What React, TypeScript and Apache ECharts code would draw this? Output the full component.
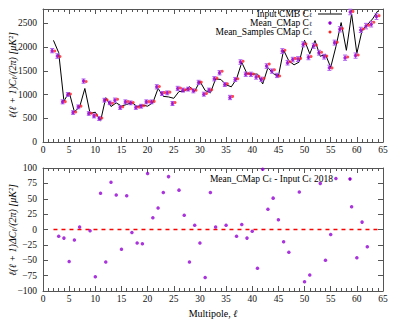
import React, { useEffect, useRef } from "react";
import * as echarts from "echarts";

const ells = [2, 3, 4, 5, 6, 7, 8, 9, 10, 11, 12, 13, 14, 15, 16, 17, 18, 19, 20, 21, 22, 23, 24, 25, 26, 27, 28, 29, 30, 31, 32, 33, 34, 35, 36, 37, 38, 39, 40, 41, 42, 43, 44, 45, 46, 47, 48, 49, 50, 51, 52, 53, 54, 55, 56, 57, 58, 59, 60, 61, 62, 63, 64];

const inputCl = [2140, 1880, 860, 1052, 637, 736, 1127, 602, 627, 440,
  933, 747, 824, 757, 790, 829, 747, 776, 754, 826,
  1127, 961, 949, 920, 1063, 1069, 1166, 1070, 1276, 1085,
  1032, 1327, 1317, 1204, 1162, 1328, 1675, 1440, 1428, 1430,
  1222, 1566, 1442, 1385, 1935, 1706, 1625, 1685, 2141, 1856,
  2135, 1805, 1846, 1571, 2009, 2514, 1930, 2700, 1865, 2350,
  2468, 2590, 2760];

const meanCMap = [1923, 1810, 845, 1000, 620, 740, 1282, 600, 550, 493,
  880, 824, 880, 725, 845, 824, 725, 753, 845, 845,
  1162, 1021, 1035, 810, 1127, 1092, 1113, 1077, 1254, 1007,
  1092, 1331, 1458, 1211, 937, 1317, 1683, 1426, 1425, 1367,
  1320, 1599, 1493, 1401, 1915, 1669, 1735, 1746, 2056, 1782,
  2025, 1880, 1796, 1563, 2092, 2373, 1775, 2737, 1819, 2360,
  2440, 2480, 2640];

const meanSamples = [1915, 1800, 850, 1010, 630, 755, 1275, 605, 565, 505,
  890, 815, 900, 740, 850, 830, 735, 765, 850, 855,
  1170, 1040, 1050, 830, 1135, 1100, 1120, 1090, 1260, 1020,
  1100, 1345, 1490, 1225, 960, 1330, 1700, 1440, 1430, 1385,
  1340, 1640, 1520, 1390, 1930, 1690, 1760, 1760, 2065, 1800,
  2040, 1890, 1810, 1560, 2100, 2390, 1790, 2750, 1830, 2380,
  2460, 2520, 2660];

const meanErr = [45, 48, 42, 40, 38, 40, 45, 38, 42, 40,
  40, 38, 45, 40, 42, 40, 38, 40, 42, 40,
  45, 42, 40, 42, 45, 42, 40, 42, 45, 42,
  42, 45, 45, 42, 45, 42, 48, 45, 45, 45,
  45, 48, 45, 45, 50, 48, 48, 50, 52, 50,
  52, 50, 50, 55, 52, 55, 55, 58, 55, 55,
  58, 58, 60];

const diffCl = [-217, -11, -14, -52, -17, 4, 155, -2, -77, 59,
  -53, 77, 56, -32, 55, -5, -22, -23, 91, 19,
  35, 60, 86, -110, 64, 23, -53, 7, -22, -78,
  60, 4, 141, 7, -225, -11, 8, -14, -3, -63,
  98, 33, 51, 16, -20, -37, 110, 61, -85, -74,
  -110, 75, -50, -8, 83, -141, -155, 37, -46, 12,
  -28, -110, -120];

const zeroLineX = [2, 64];
const zeroLineY = [0, 0];

const topYTicks = { min: 0, max: 2800, interval: 500 };
const botYTicks = { min: -100, max: 100, interval: 25 };
const xTicks = { min: 0, max: 65, interval: 5 };

const FONT = "Liberation Serif";
const PURPLE = "#9400d3";
const ERRC = "#b15ff0";
const RED = "#ff2020";
const AXC = "#555";

export default function App() {
  const ref = useRef<HTMLDivElement>(null);
  useEffect(() => {
    if (!ref.current) return;
    const chart = echarts.init(ref.current, null, { renderer: "svg" });

    const baseX = (grid: number, pos: "bottom" | "top", labels: boolean) => ({
      type: "value",
      gridIndex: grid,
      position: pos,
      ...xTicks,
      axisLine: { show: true, onZero: false, lineStyle: { color: AXC, width: 1 } },
      axisTick: { show: true, inside: true, length: 5, lineStyle: { color: AXC } },
      minorTick: { show: true, splitNumber: 5, length: 3, lineStyle: { color: AXC } },
      axisLabel: { show: labels, fontFamily: FONT, fontSize: 9.5, color: "#111", margin: 3 },
      splitLine: { show: false },
    });
    const baseY = (grid: number, pos: "left" | "right", labels: boolean, t: any) => ({
      type: "value",
      gridIndex: grid,
      position: pos,
      ...t,
      axisLine: { show: true, onZero: false, lineStyle: { color: AXC, width: 1 } },
      axisTick: { show: true, inside: true, length: 5, lineStyle: { color: AXC } },
      axisLabel: {
        show: labels, fontFamily: FONT, fontSize: 9.5, color: "#111", margin: 6,
        showMaxLabel: t.max % t.interval === 0, showMinLabel: true,
        formatter: (v: number) => (v < 0 ? "\u2212" + Math.abs(v) : String(v)),
      },
      splitLine: { show: false },
    });

    const subRich = {
      n: { fontFamily: FONT, fontSize: 10, color: "#111" },
      s: { fontFamily: FONT, fontSize: 7, color: "#111", verticalAlign: "bottom", padding: [5, 0, 0, 0] },
      i: { fontFamily: FONT, fontSize: 10, fontStyle: "italic", color: "#111" },
      si: { fontFamily: FONT, fontSize: 7, fontStyle: "italic", color: "#111", verticalAlign: "bottom", padding: [5, 0, 0, 0] },
    };
    const keyRich = {
      n: { fontFamily: FONT, fontSize: 9.5, color: "#111", lineHeight: 8 },
      s: { fontFamily: FONT, fontSize: 6.5, color: "#111", lineHeight: 8, verticalAlign: "bottom", padding: [3, 0, 0, 0] },
    };

    const errorRender = (params: any, api: any) => {
      const x = api.value(0);
      const y = api.value(1);
      const e = api.value(2);
      const t = api.coord([x, y + e]);
      const b = api.coord([x, y - e]);
      const w = 2;
      const st = { stroke: ERRC, lineWidth: 1 };
      return {
        type: "group",
        children: [
          { type: "line", shape: { x1: t[0], y1: t[1], x2: b[0], y2: b[1] }, style: st },
          { type: "line", shape: { x1: t[0] - w, y1: t[1], x2: t[0] + w, y2: t[1] }, style: st },
          { type: "line", shape: { x1: b[0] - w, y1: b[1], x2: b[0] + w, y2: b[1] }, style: st },
        ],
      };
    };

    chart.setOption({
      animation: false,
      backgroundColor: "#fff",
      grid: [
        { left: 43, top: 9, width: 340, height: 133 },
        { left: 43, top: 168, width: 340, height: 123 },
      ],
      xAxis: [
        baseX(0, "bottom", true),
        baseX(0, "top", false),
        baseX(1, "bottom", true),
        baseX(1, "top", false),
      ],
      yAxis: [
        baseY(0, "left", true, topYTicks),
        baseY(0, "right", false, topYTicks),
        baseY(1, "left", true, botYTicks),
        baseY(1, "right", false, botYTicks),
      ],
      series: [
        {
          type: "line", xAxisIndex: 0, yAxisIndex: 0,
          data: ells.map((l, i) => [l, inputCl[i]]),
          showSymbol: false, symbol: "none",
          lineStyle: { color: "#000", width: 1 }, z: 2,
        },
        {
          type: "custom", xAxisIndex: 0, yAxisIndex: 0,
          data: ells.map((l, i) => [l - 0.25, meanCMap[i], meanErr[i]]),
          encode: { x: 0, y: 1 },
          renderItem: errorRender, z: 3,
        },
        {
          type: "scatter", xAxisIndex: 0, yAxisIndex: 0,
          data: ells.map((l, i) => [l - 0.25, meanCMap[i]]),
          symbol: "circle", symbolSize: 3.5,
          itemStyle: { color: PURPLE }, z: 4,
        },
        {
          type: "scatter", xAxisIndex: 0, yAxisIndex: 0,
          data: ells.map((l, i) => [l + 0.25, meanSamples[i]]),
          symbol: "circle", symbolSize: 3,
          itemStyle: { color: RED }, z: 5,
        },
        {
          type: "line", xAxisIndex: 2, yAxisIndex: 2,
          data: zeroLineX.map((x, i) => [x, zeroLineY[i]]),
          showSymbol: false, symbol: "none",
          lineStyle: { color: "#f00", width: 1.5, type: [4, 4] }, z: 2,
        },
        {
          type: "scatter", xAxisIndex: 2, yAxisIndex: 2, clip: true,
          data: ells.map((l, i) => [l, diffCl[i]]),
          symbol: "circle", symbolSize: 3.5,
          itemStyle: { color: PURPLE }, z: 4,
        },
      ],
      graphic: [
        // top key
        { type: "text", x: 312, y: 14, style: { text: "{n|Input CMB C}{s|\u2113}", rich: keyRich, align: "right", verticalAlign: "middle" } },
        { type: "text", x: 312, y: 23, style: { text: "{n|Mean_CMap C}{s|\u2113}", rich: keyRich, align: "right", verticalAlign: "middle" } },
        { type: "text", x: 312, y: 32, style: { text: "{n|Mean_Samples CMap C}{s|\u2113}", rich: keyRich, align: "right", verticalAlign: "middle" } },
        { type: "line", shape: { x1: 318, y1: 14, x2: 342, y2: 14 }, style: { stroke: "#000", lineWidth: 1 } },
        { type: "circle", shape: { cx: 330, cy: 23, r: 1.7 }, style: { fill: PURPLE } },
        { type: "circle", shape: { cx: 330, cy: 32, r: 1.5 }, style: { fill: RED } },
        // bottom key
        { type: "text", x: 333, y: 179, style: { text: "{n|Mean_CMap C}{s|\u2113}{n| - Input C}{s|\u2113}{n| 2018}", rich: keyRich, align: "right", verticalAlign: "middle" } },
        { type: "circle", shape: { cx: 350, cy: 179, r: 1.7 }, style: { fill: PURPLE } },
        // y labels
        {
          type: "text", x: 12, y: 75, rotation: Math.PI / 2,
          style: { text: "{i|\u2113(\u2113 + 1)C}{si|\u2113}{i|/(2\u03c0) [\u03bcK\u00b2]}", rich: subRich, align: "center", verticalAlign: "middle" },
        },
        {
          type: "text", x: 12, y: 230, rotation: Math.PI / 2,
          style: { text: "{i|\u2113(\u2113 + 1)\u0394C}{si|\u2113}{i|/(2\u03c0) [\u03bcK\u00b2]}", rich: subRich, align: "center", verticalAlign: "middle" },
        },
        // x label
        {
          type: "text", x: 213, y: 313,
          style: { text: "{n|Multipole, }{i|\u2113}", rich: subRich, align: "center", verticalAlign: "middle" },
        },
      ],
    });
    return () => chart.dispose();
  }, []);
  return (
    <div
      ref={ref}
      style={{ position: "fixed", left: 0, top: 0, width: 400, height: 320, background: "#fff" }}
    />
  );
}
